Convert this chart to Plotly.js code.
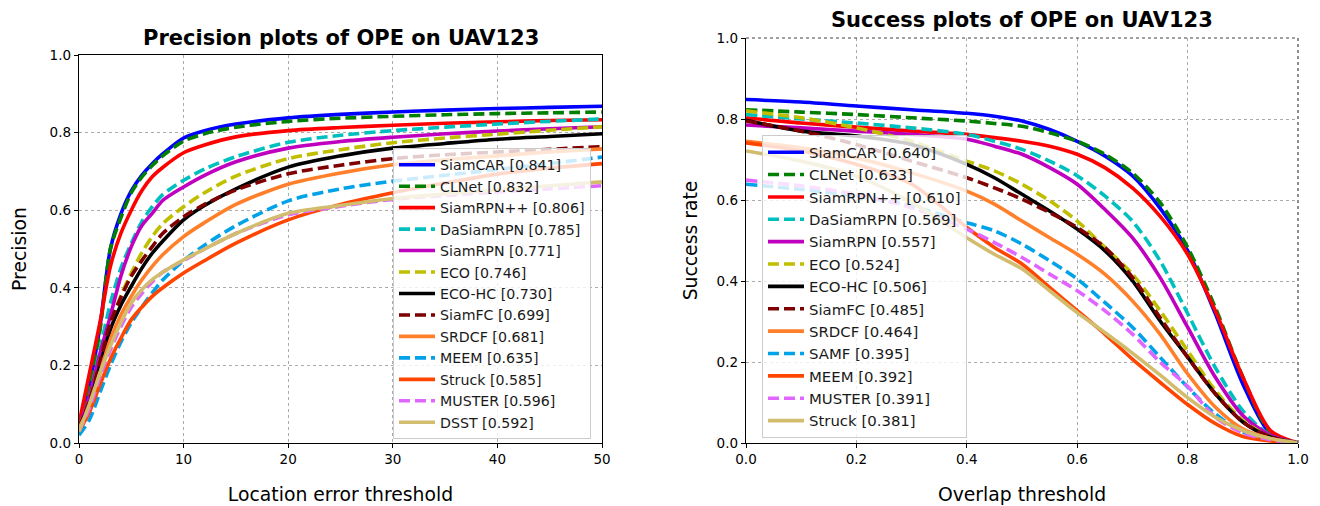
<!DOCTYPE html>
<html>
<head>
<meta charset="utf-8">
<script src="https://cdn.plot.ly/plotly-3.0.1.min.js"></script>
<style>html,body{margin:0;padding:0;background:#fff;}#chart{width:1320px;height:506px;}</style>
</head>
<body>
<div id="chart"></div>
<script>
// ---------- Precision plot data ----------
const precThresholds = [0,1,2,3,4,5,6,7,8,10,12,15,20,25,30,35,40,45,50];
const precNames = ["SiamCAR [0.841]","CLNet [0.832]","SiamRPN++ [0.806]","DaSiamRPN [0.785]","SiamRPN [0.771]","ECO [0.746]","ECO-HC [0.730]","SiamFC [0.699]","SRDCF [0.681]","MEEM [0.635]","Struck [0.585]","MUSTER [0.596]","DSST [0.592]"];
const precSiamCAR  = [0.04,0.15,0.30,0.50,0.59,0.65,0.69,0.72,0.745,0.786,0.805,0.822,0.838,0.847,0.853,0.858,0.862,0.865,0.868];
const precCLNet    = [0.04,0.15,0.29,0.50,0.58,0.645,0.685,0.715,0.74,0.778,0.797,0.814,0.829,0.837,0.842,0.846,0.849,0.851,0.853];
const precSiamRPNpp= [0.05,0.18,0.31,0.455,0.54,0.60,0.65,0.686,0.71,0.748,0.768,0.789,0.805,0.813,0.819,0.824,0.828,0.831,0.833];
const precDaSiamRPN= [0.04,0.12,0.24,0.36,0.45,0.515,0.57,0.609,0.64,0.677,0.706,0.738,0.775,0.793,0.805,0.814,0.822,0.829,0.835];
const precSiamRPN  = [0.04,0.12,0.23,0.327,0.43,0.506,0.56,0.592,0.625,0.66,0.69,0.725,0.76,0.777,0.788,0.797,0.804,0.81,0.815];
const precECO      = [0.04,0.11,0.21,0.30,0.38,0.438,0.49,0.532,0.565,0.609,0.645,0.688,0.733,0.756,0.774,0.786,0.796,0.806,0.815];
const precECOHC    = [0.04,0.10,0.20,0.293,0.355,0.404,0.45,0.489,0.52,0.575,0.612,0.655,0.711,0.74,0.76,0.772,0.783,0.79,0.797];
const precSiamFC   = [0.04,0.11,0.21,0.31,0.375,0.43,0.47,0.506,0.54,0.583,0.615,0.652,0.694,0.716,0.733,0.743,0.75,0.757,0.764];
const precSRDCF    = [0.04,0.09,0.18,0.267,0.33,0.378,0.42,0.455,0.485,0.532,0.568,0.615,0.667,0.696,0.717,0.73,0.74,0.75,0.758];
const precMEEM     = [0.02,0.06,0.13,0.20,0.26,0.31,0.35,0.387,0.42,0.47,0.51,0.56,0.624,0.655,0.675,0.69,0.705,0.72,0.737];
const precStruck   = [0.03,0.08,0.15,0.216,0.27,0.318,0.35,0.378,0.40,0.438,0.47,0.515,0.575,0.615,0.645,0.67,0.693,0.708,0.72];
const precMUSTER   = [0.03,0.09,0.17,0.24,0.30,0.35,0.385,0.415,0.44,0.47,0.50,0.54,0.588,0.61,0.628,0.638,0.647,0.655,0.663];
const precDSST     = [0.03,0.10,0.18,0.25,0.31,0.361,0.395,0.421,0.44,0.472,0.50,0.54,0.592,0.612,0.63,0.642,0.652,0.663,0.673];
const precSeries = [precSiamCAR,precCLNet,precSiamRPNpp,precDaSiamRPN,precSiamRPN,precECO,precECOHC,precSiamFC,precSRDCF,precMEEM,precStruck,precMUSTER,precDSST];

// ---------- Success plot data ----------
const succThresholds = [0,0.1,0.2,0.3,0.4,0.45,0.5,0.55,0.6,0.65,0.7,0.75,0.8,0.85,0.9,0.95,1.0];
const succNames = ["SiamCAR [0.640]","CLNet [0.633]","SiamRPN++ [0.610]","DaSiamRPN [0.569]","SiamRPN [0.557]","ECO [0.524]","ECO-HC [0.506]","SiamFC [0.485]","SRDCF [0.464]","SAMF [0.395]","MEEM [0.392]","MUSTER [0.391]","Struck [0.381]"];
const succSiamCAR  = [0.848,0.842,0.832,0.823,0.814,0.807,0.795,0.774,0.745,0.709,0.66,0.58,0.475,0.32,0.146,0.023,0.0];
const succCLNet    = [0.823,0.817,0.811,0.803,0.795,0.789,0.782,0.766,0.745,0.713,0.667,0.594,0.483,0.335,0.163,0.027,0.0];
const succSiamRPNpp= [0.803,0.79,0.78,0.77,0.762,0.754,0.745,0.733,0.713,0.68,0.63,0.56,0.466,0.327,0.163,0.031,0.0];
const succDaSiamRPN= [0.811,0.80,0.79,0.778,0.762,0.745,0.725,0.696,0.66,0.61,0.548,0.45,0.32,0.187,0.08,0.019,0.0];
const succSiamRPN  = [0.785,0.778,0.77,0.762,0.75,0.733,0.713,0.68,0.639,0.577,0.507,0.409,0.286,0.163,0.068,0.019,0.0];
const succECO      = [0.82,0.803,0.778,0.745,0.696,0.672,0.639,0.598,0.548,0.483,0.417,0.327,0.228,0.13,0.056,0.015,0.0];
const succECOHC    = [0.797,0.77,0.758,0.737,0.688,0.655,0.614,0.573,0.528,0.475,0.401,0.302,0.212,0.122,0.052,0.015,0.0];
const succSiamFC   = [0.795,0.77,0.737,0.696,0.655,0.63,0.602,0.569,0.532,0.483,0.409,0.31,0.212,0.122,0.052,0.015,0.0];
const succSRDCF    = [0.745,0.729,0.704,0.667,0.622,0.59,0.548,0.507,0.466,0.417,0.351,0.269,0.171,0.089,0.035,0.011,0.0];
const succSAMF     = [0.639,0.626,0.61,0.585,0.544,0.524,0.491,0.45,0.405,0.347,0.286,0.212,0.138,0.072,0.027,0.008,0.0];
const succMEEM     = [0.741,0.721,0.688,0.639,0.532,0.483,0.442,0.384,0.327,0.269,0.207,0.15,0.095,0.048,0.016,0.005,0.0];
const succMUSTER   = [0.649,0.635,0.614,0.581,0.528,0.495,0.458,0.417,0.376,0.327,0.269,0.2,0.14,0.064,0.025,0.008,0.0];
const succStruck   = [0.721,0.696,0.659,0.594,0.507,0.466,0.43,0.376,0.322,0.273,0.222,0.168,0.112,0.064,0.031,0.011,0.0];
const succSeries = [succSiamCAR,succCLNet,succSiamRPNpp,succDaSiamRPN,succSiamRPN,succECO,succECOHC,succSiamFC,succSRDCF,succSAMF,succMEEM,succMUSTER,succStruck];

// ---------- styles (by rank position) ----------
const colors = ["#0000ff","#007f00","#ff0000","#00bfbf","#bf00bf","#bfbf00","#000000","#7f0000","#ff7f2a","#00a2e8","#ff4500","#e066ff","#d2bc6e"];
const dashed = [false,true,false,true,false,true,false,true,false,true,false,true,false];

const FONT = "DejaVu Sans, Liberation Sans, sans-serif";
const traces = [];
function addSet(xs, series, names, xa, ya, legendId, prefix) {
  series.forEach((ys, i) => {
    traces.push({
      type: "scatter", mode: "lines",
      x: xs, y: ys, name: names[i],
      xaxis: xa, yaxis: ya, legend: legendId,
      legendgroup: prefix + i,
      line: {color: colors[i], width: 3.6, shape: "spline", smoothing: 0.8,
             dash: dashed[i] ? "11px,5px" : "solid"},
      hoverinfo: "skip"
    });
  });
}
addSet(precThresholds, precSeries, precNames, "x", "y", "legend", "p");
addSet(succThresholds, succSeries, succNames, "x2", "y2", "legend2", "s");

const W = 1320, H = 506;
const L1 = 79/W, R1 = 602/W, T1 = (H-55)/H, B1 = (H-443)/H;
const L2 = 746/W, R2 = 1298/W, T2 = (H-38)/H, B2 = (H-443)/H;

const axisBase = {
  showline: true, linecolor: "#000", linewidth: 1.2,
  ticks: "outside", ticklen: 4, tickwidth: 1, tickcolor: "#000",
  showgrid: true, gridcolor: "#aaaaaa", griddash: "dot", gridwidth: 1,
  zeroline: false, tickfont: {family: FONT, size: 13.5, color: "#000"},
  fixedrange: true
};
const legendBase = {
  bgcolor: "rgba(255,255,255,0.8)", bordercolor: "#cccccc", borderwidth: 1,
  xanchor: "left", yanchor: "top", tracegroupgap: 0, traceorder: "grouped",
  itemwidth: 36
};

const layout = {
  width: W, height: H,
  margin: {l: 0, r: 0, t: 0, b: 0},
  paper_bgcolor: "#fff", plot_bgcolor: "#fff",
  showlegend: true,
  xaxis: Object.assign({}, axisBase, {
    domain: [L1, R1], anchor: "y", range: [0, 50], dtick: 10, tick0: 0, mirror: true,
    title: {text: "Location error threshold", font: {family: FONT, size: 18.8, color: "#000"}, standoff: 21}
  }),
  yaxis: Object.assign({}, axisBase, {
    domain: [B1, T1], anchor: "x", range: [0, 1], dtick: 0.2, tickformat: ".1f", mirror: true,
    title: {text: "Precision", font: {family: FONT, size: 18.8, color: "#000"}, standoff: 18}
  }),
  xaxis2: Object.assign({}, axisBase, {
    domain: [L2, R2], anchor: "y2", range: [0, 1], dtick: 0.2, tickformat: ".1f", mirror: false,
    title: {text: "Overlap threshold", font: {family: FONT, size: 18.8, color: "#000"}, standoff: 21}
  }),
  yaxis2: Object.assign({}, axisBase, {
    domain: [B2, T2], anchor: "x2", range: [0, 1], dtick: 0.2, tickformat: ".1f", mirror: false,
    title: {text: "Success rate", font: {family: FONT, size: 18.8, color: "#000"}, standoff: 14}
  }),
  legend: Object.assign({}, legendBase, {x: 393/W, y: (H-148)/H,
    font: {family: FONT, size: 14.2, color: "#1a1a1a"}}),
  legend2: Object.assign({}, legendBase, {x: 762/W, y: (H-135)/H,
    font: {family: FONT, size: 14.9, color: "#1a1a1a"}}),
  shapes: [
    {type: "line", xref: "x2 domain", yref: "y2 domain", x0: 0, x1: 1, y0: 1, y1: 1,
     line: {color: "#444", width: 1.2, dash: "dot"}},
    {type: "line", xref: "x2 domain", yref: "y2 domain", x0: 1, x1: 1, y0: 0, y1: 1,
     line: {color: "#444", width: 1.2, dash: "dot"}}
  ],
  annotations: [
    {text: "<b>Precision plots of OPE on UAV123</b>", xref: "paper", yref: "paper",
     x: (L1+R1)/2, y: (H-38)/H, xanchor: "center", yanchor: "middle", showarrow: false,
     font: {family: FONT, size: 21, color: "#000"}},
    {text: "<b>Success plots of OPE on UAV123</b>", xref: "paper", yref: "paper",
     x: (L2+R2)/2, y: (H-20)/H, xanchor: "center", yanchor: "middle", showarrow: false,
     font: {family: FONT, size: 21, color: "#000"}}
  ]
};

Plotly.newPlot("chart", traces, layout, {staticPlot: true, displayModeBar: false});
</script>
</body>
</html>
